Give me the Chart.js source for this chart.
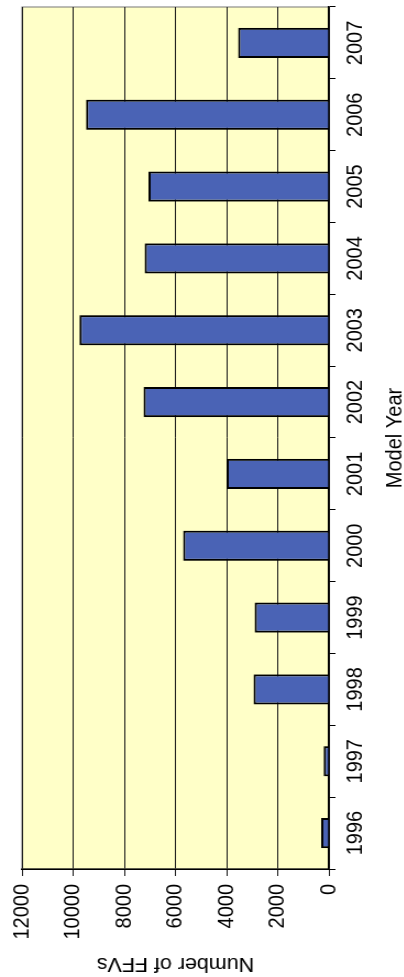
<!DOCTYPE html>
<html>
<head>
<meta charset="utf-8">
<title>FFVs by Model Year</title>
<script src="https://cdn.jsdelivr.net/npm/chart.js@4/dist/chart.umd.min.js"></script>
<style>
  html, body { margin: 0; padding: 0; background: #fff; width: 404px; height: 977px; overflow: hidden; }
  /* the scanned chart sits on its side: draw it upright, then turn it */
  #wrap {
    position: absolute; left: 0; top: 0;
    width: 977px; height: 372px;
    transform-origin: 0 0;
    transform: translate(0, 977px) scale(1.1, 1) rotate(-90deg);
  }
</style>
</head>
<body>
<div id="wrap"><canvas id="ffvChart" width="977" height="372"></canvas></div>
<script>
'use strict';

const MODEL_YEARS = ['1996', '1997', '1998', '1999', '2000', '2001', '2002', '2003', '2004', '2005', '2006', '2007'];
const FFV_COUNTS = [300, 200, 2950, 2900, 5700, 4000, 7250, 9750, 7200, 7050, 9500, 3550];
const Y_TICKS = [0, 2000, 4000, 6000, 8000, 10000, 12000];

const FONT = '"Liberation Sans", Arial, sans-serif';
const PLOT_BG = '#ffffc8';
const BAR_FILL = '#4a63b5';

const plotBackground = {
  id: 'plotBackground',
  beforeDraw(chart) {
    const { ctx, chartArea: a } = chart;
    ctx.save();
    ctx.fillStyle = PLOT_BG;
    ctx.fillRect(a.left, a.top, a.width, a.height);
    ctx.strokeStyle = '#777';
    ctx.lineWidth = 1;
    ctx.strokeRect(a.left, a.top, a.width, a.height);
    ctx.restore();
  }
};

new Chart(document.getElementById('ffvChart'), {
  type: 'bar',
  data: {
    labels: MODEL_YEARS,
    datasets: [{
      label: 'Number of FFVs',
      data: FFV_COUNTS,
      backgroundColor: BAR_FILL,
      borderColor: '#000',
      borderWidth: 2,
      barPercentage: 0.42,
      categoryPercentage: 1
    }]
  },
  options: {
    responsive: false,
    animation: false,
    layout: { padding: { left: 0, right: 7, top: 16, bottom: 1 } },
    plugins: { legend: { display: false }, tooltip: { enabled: false } },
    scales: {
      x: {
        grid: { offset: true, drawOnChartArea: false, drawTicks: true, tickLength: 6, color: '#000' },
        border: { display: true, color: '#000', width: 1.5 },
        ticks: { color: '#000', font: { family: FONT, size: 20 }, padding: 6, maxRotation: 0, autoSkip: false },
        title: { display: true, text: 'Model Year', color: '#000', font: { family: FONT, size: 20 }, padding: 0 },
        afterFit(s) { s.height = 72; }
      },
      y: {
        min: Y_TICKS[0],
        max: Y_TICKS[Y_TICKS.length - 1],
        ticks: {
          stepSize: Y_TICKS[1] - Y_TICKS[0],
          color: '#000',
          font: { family: FONT, size: 20 },
          padding: 8,
          callback: v => String(v)
        },
        grid: { color: '#1a1a1a', lineWidth: 1, drawTicks: true, tickLength: 7 },
        border: { display: true, color: '#000', width: 1.5 },
        title: { display: true, text: 'Number of FFVs', color: '#000', font: { family: FONT, size: 19.5 }, padding: { top: 2, bottom: 0 } },
        afterFit(s) { s.width = 108; }
      }
    }
  },
  plugins: [plotBackground]
});
</script>
</body>
</html>
